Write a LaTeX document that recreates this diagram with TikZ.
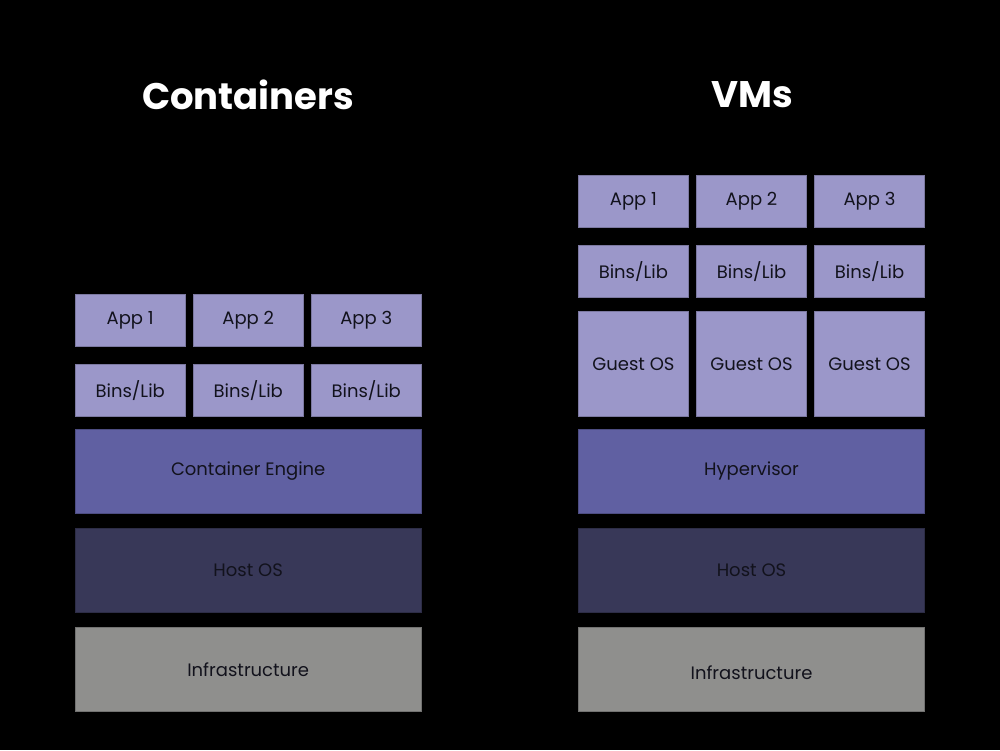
\documentclass[tikz,border=0pt]{standalone}
\usepackage{fontspec}
\setmainfont{Poppins}
\usepackage{tikz}

\definecolor{lightlayer}{RGB}{155,151,201}
\definecolor{midlayer}{RGB}{96,96,162}
\definecolor{hostlayer}{RGB}{56,56,88}
\definecolor{infralayer}{RGB}{143,143,141}
\definecolor{labelink}{RGB}{18,18,28}

\tikzset{
  layer/.style={draw=#1!80!black, line width=0.8pt, fill=#1, text=labelink,
    font=\fontsize{18}{21}\selectfont, inner sep=0pt},
  small/.style={layer=lightlayer, minimum width=110.5pt, minimum height=52.5pt},
  guest/.style={layer=lightlayer, minimum width=110.5pt, minimum height=105pt},
  wide/.style={layer=#1, minimum width=346.5pt, minimum height=83.8pt},
  heading/.style={text=white, font=\fontsize{37}{42}\bfseries\selectfont}
}

\begin{document}
\begin{tikzpicture}[x=1pt, y=-1pt]
    \fill [black] (0, 0) rectangle (1000, 750);
    \useasboundingbox (0, 0) rectangle (1000, 750);
    % headings
    \node [heading] (ctitle) at (248, 95) {Containers};
    \node [heading] (vtitle) at (752, 95) {VMs};
    % containers
    \node [small]            (capp1) at (130.2, 320.5) {App 1};
    \node [small]            (capp2) at (248.2, 320.5) {App 2};
    \node [small]            (capp3) at (366.2, 320.5) {App 3};
    \node [small]            (cbin1) at (130.2, 390.4) {Bins/Lib};
    \node [small]            (cbin2) at (248.2, 390.4) {Bins/Lib};
    \node [small]            (cbin3) at (366.2, 390.4) {Bins/Lib};
    \node [wide=midlayer]    (engine) at (248.2, 471.3) {Container Engine};
    \node [wide=hostlayer]   (chost) at (248.2, 570.5) {Host OS};
    \node [wide=infralayer]  (cinfra) at (248.2, 669.2) {Infrastructure};
    % VMs
    \node [small]            (vapp1) at (633.4, 201.3) {App 1};
    \node [small]            (vapp2) at (751.5, 201.3) {App 2};
    \node [small]            (vapp3) at (869.5, 201.3) {App 3};
    \node [small]            (vbin1) at (633.4, 271.2) {Bins/Lib};
    \node [small]            (vbin2) at (751.5, 271.2) {Bins/Lib};
    \node [small]            (vbin3) at (869.5, 271.2) {Bins/Lib};
    \node [guest]            (vos1) at (633.4, 364.2) {Guest OS};
    \node [guest]            (vos2) at (751.5, 364.2) {Guest OS};
    \node [guest]            (vos3) at (869.5, 364.2) {Guest OS};
    \node [wide=midlayer]    (hyper) at (751.5, 471.3) {Hypervisor};
    \node [wide=hostlayer]   (vhost) at (751.5, 570.5) {Host OS};
    \node [wide=infralayer, text height=25pt, text depth=4pt] (vinfra) at (751.5, 669.2) {Infrastructure};
\end{tikzpicture}
\end{document}
